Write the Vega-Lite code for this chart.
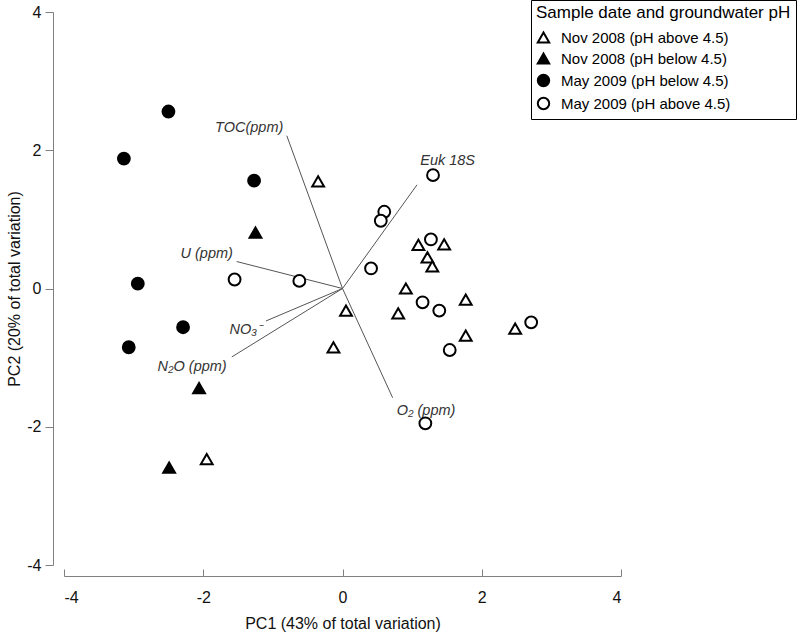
{
  "$schema": "https://vega.github.io/schema/vega-lite/v6.json",
  "width": 557,
  "height": 553,
  "autosize": {"type": "none"},
  "padding": {"left": 64, "top": 12, "right": 179, "bottom": 71},
  "background": "white",
  "config": {
    "font": "Liberation Sans",
    "view": {"stroke": null},
    "axis": {
      "grid": false,
      "domainColor": "#808080",
      "tickColor": "#808080",
      "labelColor": "#111111",
      "labelFontSize": 16,
      "titleFontSize": 16,
      "titleFontWeight": "normal",
      "titleColor": "#111111",
      "offset": 11,
      "labelExpr": "'' + datum.value"
    },
    "legend": {
      "orient": "none",
      "legendX": 467,
      "legendY": -12,
      "strokeColor": "black",
      "fillColor": "white",
      "padding": 5,
      "titleFontSize": 17,
      "titleFontWeight": "normal",
      "titleColor": "black",
      "titleLimit": 400,
      "labelFontSize": 15,
      "labelColor": "black",
      "labelLimit": 400,
      "symbolSize": 130,
      "symbolStrokeWidth": 2,
      "rowPadding": 2,
      "titlePadding": 8,
      "labelOffset": 10
    }
  },
  "datasets": {
    "samples": [
      {"group": "Nov 2008 (pH above 4.5)", "pc1": -1.95, "pc2": -2.47},
      {"group": "Nov 2008 (pH above 4.5)", "pc1": -0.35, "pc2": 1.55},
      {"group": "Nov 2008 (pH above 4.5)", "pc1": 0.05, "pc2": -0.32},
      {"group": "Nov 2008 (pH above 4.5)", "pc1": -0.13, "pc2": -0.85},
      {"group": "Nov 2008 (pH above 4.5)", "pc1": 1.09, "pc2": 0.63},
      {"group": "Nov 2008 (pH above 4.5)", "pc1": 1.46, "pc2": 0.64},
      {"group": "Nov 2008 (pH above 4.5)", "pc1": 1.22, "pc2": 0.45},
      {"group": "Nov 2008 (pH above 4.5)", "pc1": 1.29, "pc2": 0.32},
      {"group": "Nov 2008 (pH above 4.5)", "pc1": 0.91, "pc2": 0.0},
      {"group": "Nov 2008 (pH above 4.5)", "pc1": 0.8, "pc2": -0.36},
      {"group": "Nov 2008 (pH above 4.5)", "pc1": 1.77, "pc2": -0.16},
      {"group": "Nov 2008 (pH above 4.5)", "pc1": 1.77, "pc2": -0.68},
      {"group": "Nov 2008 (pH above 4.5)", "pc1": 2.48, "pc2": -0.58},
      {"group": "Nov 2008 (pH below 4.5)", "pc1": -1.25, "pc2": 0.81},
      {"group": "Nov 2008 (pH below 4.5)", "pc1": -2.06, "pc2": -1.44},
      {"group": "Nov 2008 (pH below 4.5)", "pc1": -2.49, "pc2": -2.59},
      {"group": "May 2009 (pH below 4.5)", "pc1": -2.5, "pc2": 2.56},
      {"group": "May 2009 (pH below 4.5)", "pc1": -3.14, "pc2": 1.88},
      {"group": "May 2009 (pH below 4.5)", "pc1": -1.27, "pc2": 1.56},
      {"group": "May 2009 (pH below 4.5)", "pc1": -2.94, "pc2": 0.07},
      {"group": "May 2009 (pH below 4.5)", "pc1": -2.29, "pc2": -0.56},
      {"group": "May 2009 (pH below 4.5)", "pc1": -3.07, "pc2": -0.85},
      {"group": "May 2009 (pH above 4.5)", "pc1": 1.3, "pc2": 1.64},
      {"group": "May 2009 (pH above 4.5)", "pc1": 0.6, "pc2": 1.11},
      {"group": "May 2009 (pH above 4.5)", "pc1": 0.55, "pc2": 0.98},
      {"group": "May 2009 (pH above 4.5)", "pc1": 1.27, "pc2": 0.71},
      {"group": "May 2009 (pH above 4.5)", "pc1": 0.41, "pc2": 0.29},
      {"group": "May 2009 (pH above 4.5)", "pc1": -1.55, "pc2": 0.13},
      {"group": "May 2009 (pH above 4.5)", "pc1": -0.62, "pc2": 0.11},
      {"group": "May 2009 (pH above 4.5)", "pc1": 1.15, "pc2": -0.2},
      {"group": "May 2009 (pH above 4.5)", "pc1": 1.39, "pc2": -0.32},
      {"group": "May 2009 (pH above 4.5)", "pc1": 1.54, "pc2": -0.89},
      {"group": "May 2009 (pH above 4.5)", "pc1": 1.19, "pc2": -1.95},
      {"group": "May 2009 (pH above 4.5)", "pc1": 2.71, "pc2": -0.49}
    ],
    "vectors": [
      {"variable": "TOC(ppm)", "x0": 0, "y0": 0, "x_end": -0.8, "y_end": 2.21, "label_x": -1.34, "label_y": 2.32},
      {"variable": "Euk 18S", "x0": 0, "y0": 0, "x_end": 1.07, "y_end": 1.5, "label_x": 1.51, "label_y": 1.85},
      {"variable": "U (ppm)", "x0": 0, "y0": 0, "x_end": -1.52, "y_end": 0.39, "label_x": -1.95, "label_y": 0.5},
      {"variable": "NO₃⁻", "x0": 0, "y0": 0, "x_end": -1.1, "y_end": -0.47, "label_x": -1.39, "label_y": -0.6},
      {"variable": "N₂O (ppm)", "x0": 0, "y0": 0, "x_end": -1.59, "y_end": -0.99, "label_x": -2.16, "label_y": -1.13},
      {"variable": "O₂  (ppm)", "x0": 0, "y0": 0, "x_end": 0.72, "y_end": -1.58, "label_x": 1.2, "label_y": -1.77}
    ]
  },
  "layer": [
    {
      "data": {"name": "vectors"},
      "mark": {"type": "rule", "color": "#555555", "strokeWidth": 1},
      "encoding": {
        "x": {"field": "x0", "type": "quantitative", "scale": {"domain": [-4, 4], "nice": false, "zero": false},
          "axis": {"title": "PC1 (43% of total variation)", "values": [-4, -2, 0, 2, 4], "tickSize": -7, "labelPadding": 20, "titlePadding": 10}},
        "y": {"field": "y0", "type": "quantitative", "scale": {"domain": [-4, 4], "nice": false, "zero": false},
          "axis": {"title": "PC2 (20% of total variation)", "values": [-4, -2, 0, 2, 4], "tickSize": 8, "labelPadding": 4, "titlePadding": 4}},
        "x2": {"field": "x_end"},
        "y2": {"field": "y_end"}
      }
    },
    {
      "data": {"name": "vectors"},
      "mark": {"type": "text", "fontStyle": "italic", "fontSize": 14.5, "color": "#333333", "align": "center", "baseline": "middle"},
      "encoding": {
        "x": {"field": "label_x", "type": "quantitative"},
        "y": {"field": "label_y", "type": "quantitative"},
        "text": {"field": "variable"}
      }
    },
    {
      "data": {"name": "samples"},
      "mark": {"type": "point", "filled": true, "strokeWidth": 2, "size": 140, "opacity": 1},
      "encoding": {
        "x": {"field": "pc1", "type": "quantitative"},
        "y": {"field": "pc2", "type": "quantitative"},
        "shape": {"field": "group", "type": "nominal",
          "scale": {"domain": ["Nov 2008 (pH above 4.5)", "Nov 2008 (pH below 4.5)", "May 2009 (pH below 4.5)", "May 2009 (pH above 4.5)"],
                    "range": ["triangle-up", "triangle-up", "circle", "circle"]},
          "legend": {"title": "Sample date and groundwater pH"}},
        "fill": {"field": "group", "type": "nominal",
          "scale": {"domain": ["Nov 2008 (pH above 4.5)", "Nov 2008 (pH below 4.5)", "May 2009 (pH below 4.5)", "May 2009 (pH above 4.5)"],
                    "range": ["white", "black", "black", "white"]},
          "legend": {"title": "Sample date and groundwater pH"}},
        "stroke": {"field": "group", "type": "nominal",
          "scale": {"domain": ["Nov 2008 (pH above 4.5)", "Nov 2008 (pH below 4.5)", "May 2009 (pH below 4.5)", "May 2009 (pH above 4.5)"],
                    "range": ["black", "black", "black", "black"]},
          "legend": {"title": "Sample date and groundwater pH"}}
      }
    }
  ]
}
